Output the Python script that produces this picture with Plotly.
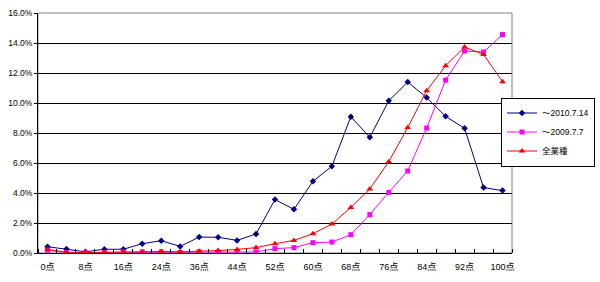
import plotly.graph_objects as go

categories = ["0点", "4点", "8点", "12点", "16点", "20点", "24点", "30点", "36点", "40点",
              "44点", "48点", "52点", "56点", "60点", "64点", "68点", "72点", "76点", "80点",
              "84点", "88点", "92点", "96点", "100点"]

s2010 = [0.42, 0.27, 0.08, 0.25, 0.25, 0.62, 0.82, 0.44, 1.06, 1.05,
         0.84, 1.27, 3.56, 2.91, 4.78, 5.78, 9.09, 7.71, 10.15, 11.40,
         10.36, 9.11, 8.31, 4.36, 4.16]
s2009 = [0.18, 0.03, 0.03, 0.03, 0.07, 0.07, 0.07, 0.03, 0.08, 0.05,
         0.06, 0.07, 0.29, 0.36, 0.69, 0.73, 1.22, 2.56, 4.04, 5.47,
         8.33, 11.53, 13.47, 13.40, 14.56]
sall = [0.25, 0.05, 0.03, 0.05, 0.08, 0.08, 0.10, 0.08, 0.11, 0.16,
        0.24, 0.36, 0.62, 0.84, 1.29, 1.93, 3.04, 4.27, 6.09, 8.36,
        10.82, 12.49, 13.73, 13.24, 11.42]

names = ["～2010.7.14", "～2009.7.7", "全業種"]
yticks = [0, 2, 4, 6, 8, 10, 12, 14, 16]

xs = list(range(len(categories)))
FONT = "Liberation Sans, Noto Sans CJK JP, sans-serif"

fig = go.Figure()
fig.add_trace(go.Scatter(x=xs, y=s2010, name=names[0], mode="lines+markers",
                         line=dict(color="#000080", width=1),
                         marker=dict(symbol="diamond", size=5, color="#000080")))
fig.add_trace(go.Scatter(x=xs, y=s2009, name=names[1], mode="lines+markers",
                         line=dict(color="#FF00FF", width=1),
                         marker=dict(symbol="square", size=5, color="#FF00FF")))
fig.add_trace(go.Scatter(x=xs, y=sall, name=names[2], mode="lines+markers",
                         line=dict(color="#FF0000", width=1),
                         marker=dict(symbol="triangle-up", size=6, color="#FF0000")))

fig.update_layout(
    width=600, height=282,
    margin=dict(l=38, r=88, t=13, b=29, autoexpand=False),
    paper_bgcolor="white", plot_bgcolor="white",
    font=dict(family=FONT, size=9, color="black"),
    showlegend=True,
    legend=dict(x=(501 - 38) / 474, y=(253 - 132) / 240,
                xanchor="left", yanchor="middle",
                bordercolor="black", borderwidth=1, bgcolor="white",
                font=dict(size=8.5), itemwidth=30, tracegroupgap=0),
    shapes=[dict(type="rect", xref="paper", yref="paper", x0=0, x1=1, y0=0, y1=1,
                 line=dict(color="#808080", width=1), layer="below")],
)
fig.update_xaxes(
    range=[-0.5, len(categories) - 0.5],
    tickmode="array", tickvals=xs[::2], ticktext=categories[::2],
    ticks="", showgrid=False, zeroline=False,
    showline=True, linecolor="black", linewidth=1,
    tickfont=dict(size=9), ticklabelstandoff=5,
    minor=dict(tickmode="array", tickvals=[i - 0.5 for i in range(len(categories) + 1)],
               ticks="inside", ticklen=4, tickcolor="black", showgrid=False),
)
fig.update_yaxes(
    range=[0, 16],
    tickmode="array", tickvals=yticks, ticktext=[f"{v:.1f}%" for v in yticks],
    ticks="outside", ticklen=3, tickcolor="black",
    showgrid=True, gridcolor="black", gridwidth=1, zeroline=False,
    showline=True, linecolor="black", linewidth=1,
    tickfont=dict(size=8.5),
)

fig.write_html("out.html")
